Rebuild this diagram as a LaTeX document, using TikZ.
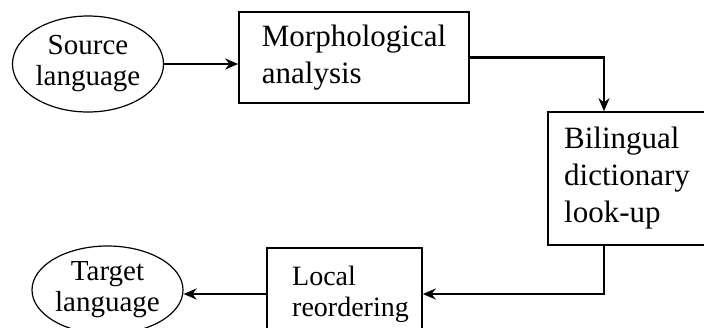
\documentclass[tikz,border=0pt]{standalone}
\usepackage{fontspec}
\setmainfont{Liberation Serif}
\usetikzlibrary{shapes.geometric, arrows.meta}
\tikzset{
    lang/.style={draw, ellipse, line width=0.6pt, inner sep=0pt, align=center,
        font=\fontsize{14.5}{15.5}\selectfont},
    stage/.style={draw, rectangle, line width=0.8pt, inner sep=0pt, align=left,
        font=\fontsize{15.5}{18.5}\selectfont},
    flow/.style={line width=1.2pt, -{Stealth[length=6.5pt, width=5.5pt]}},
}
\begin{document}
\begin{tikzpicture}[x=0.5pt, y=-0.5pt]
    \useasboundingbox (0,0) rectangle (704,327);
    \clip (0,0) rectangle (704,327);
    % languages
    \node[lang, minimum width=75.5pt, minimum height=48pt] (src) at (88,64) {Source\\language};
    \node[lang, minimum width=75.5pt, minimum height=44pt] (tgt) at (107.5,290) {Target\\language};
    % stages
    \node[stage, minimum width=115pt, minimum height=45.5pt] (morph) at (354,57.5) {Morphological\\analysis};
    \node[stage, minimum width=79pt, minimum height=66.5pt] (dict) at (627,178.5) {Bilingual\\dictionary\\look-up};
    \node[stage, minimum width=77.5pt, minimum height=46pt, font=\fontsize{14}{15.5}\selectfont] (reord) at (344.5,294) {\hspace*{6pt}Local\\\hspace*{6pt}reordering};
    \coordinate (drop) at (604,0);
    % connectors
    \draw[flow] (src.east) -- (src.east -| morph.west);
    \draw[flow] (morph.east) -| (drop |- dict.north);
    \draw[flow] (drop |- dict.south) |- (reord.east);
    \draw[flow] (reord.west) -- (reord.west -| tgt.east);
\end{tikzpicture}
\end{document}
